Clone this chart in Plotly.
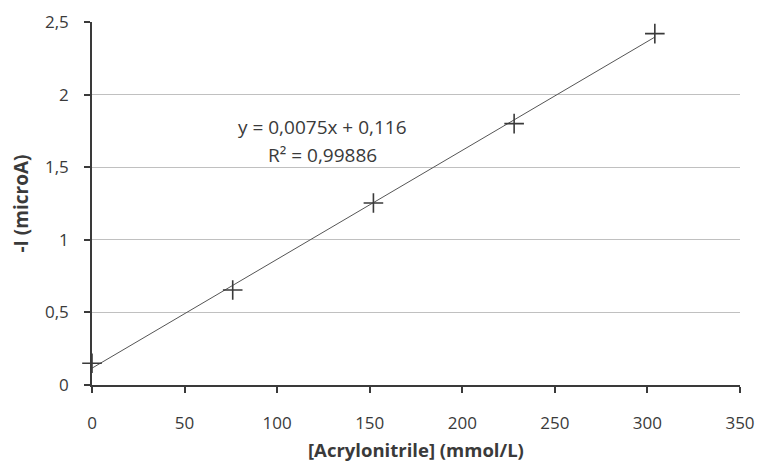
import plotly.graph_objects as go

conc = [0, 76, 152, 228, 304]
current = [0.15, 0.654, 1.253, 1.80, 2.42]
slope = 0.0075
intercept = 0.116
r2 = 0.99886
x_ticks = [0, 50, 100, 150, 200, 250, 300, 350]
y_ticks = [0, 0.5, 1, 1.5, 2, 2.5]

font = "Open Sans, Noto Sans, sans-serif"
dark = "#3a3a3a"

trend_x = [conc[0], conc[-1]]
trend_y = [slope * v + intercept for v in trend_x]

fig = go.Figure()
fig.add_trace(go.Scatter(x=trend_x, y=trend_y, mode="lines",
                         line=dict(color="#555555", width=1), hoverinfo="skip"))
fig.add_trace(go.Scatter(x=conc, y=current, mode="markers",
                         marker=dict(symbol="cross-thin", size=14,
                                     line=dict(color=dark, width=1.6)),
                         cliponaxis=False))

def fmt(v):
    return str(v).replace(".", ",")

fig.add_annotation(x=0.355, y=0.672, xref="paper", yref="paper", yanchor="middle",
                   yshift=14, text=f"y = {fmt(slope)}x + {fmt(intercept)}",
                   showarrow=False, font=dict(family=font, size=19, color=dark))
fig.add_annotation(x=0.355, y=0.672, xref="paper", yref="paper", yanchor="middle",
                   yshift=-14, text=f"R² = {fmt(r2)}",
                   showarrow=False, font=dict(family=font, size=19, color=dark))

fig.add_annotation(x=0.5, y=0, xref="paper", yref="paper", yanchor="middle",
                   yshift=-64, text="<b>[Acrylonitrile] (mmol/L)</b>",
                   showarrow=False, font=dict(family=font, size=18.5, color=dark))
fig.add_annotation(x=0, y=0.5, xref="paper", yref="paper", xanchor="center",
                   xshift=-72, textangle=-90, text="<b>-I (microA)</b>",
                   showarrow=False, font=dict(family=font, size=19, color=dark))

fig.update_layout(
    width=748, height=454,
    margin=dict(l=84, r=16, t=14, b=77, autoexpand=False),
    paper_bgcolor="white", plot_bgcolor="white",
    showlegend=False,
    separators=", ",
    font=dict(family=font, size=18, color=dark),
)
fig.update_xaxes(range=[0, 350], tickvals=x_ticks, showgrid=False, zeroline=False,
                 automargin=False, ticklabeloverflow="allow",
                 showline=True, linecolor=dark, linewidth=1.5,
                 ticks="outside", ticklen=6, tickwidth=1.5, tickcolor=dark,
                 ticklabelstandoff=16,
                 tickfont=dict(size=17, color=dark))
fig.update_yaxes(range=[0, 2.5], tickvals=y_ticks, showgrid=True, gridcolor="#c0c0c0",
                 gridwidth=1, zeroline=False, automargin=False,
                 ticklabeloverflow="allow",
                 showline=True, linecolor=dark, linewidth=1.5,
                 ticks="outside", ticklen=6, tickwidth=1.5, tickcolor=dark,
                 ticklabelstandoff=12,
                 tickfont=dict(size=17, color=dark))

fig.write_html("out.html")
